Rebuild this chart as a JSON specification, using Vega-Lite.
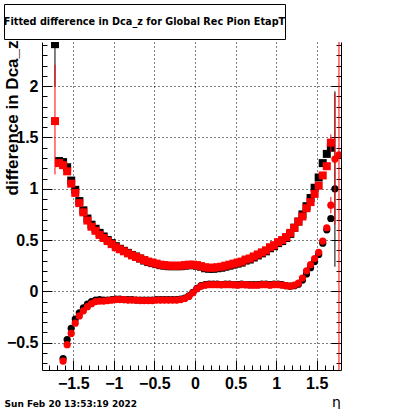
{
"$schema": "https://vega.github.io/schema/vega-lite/v6.json",
"background": "white",
"padding": {"left": 3, "top": 3, "right": 0, "bottom": 0},
"spacing": 0,
"config": {"font": "Liberation Sans", "view": {"stroke": null}, "axis": {"labelColor": "black", "titleColor": "black", "tickColor": "black", "domainColor": "black"}},
"vconcat": [
{
 "width": 281, "height": 35,
 "view": {"stroke": "black", "strokeWidth": 1, "fill": "white"},
 "data": {"values": [{"t": "Fitted difference in Dca_z for Global Rec Pion EtapT"}]},
 "mark": {"type": "text", "fontSize": 9.7, "fontWeight": "bold", "font": "DejaVu Sans", "color": "black"},
 "encoding": {"text": {"field": "t"}}
},
{
 "width": 337, "height": 328,
 "data": {"values": [
{"s":"rs","e":-1.725,"v":1.66,"lo":1.14,"hi":2.21},
{"s":"rs","e":-1.675,"v":1.25},{"s":"rs","e":-1.625,"v":1.23},{"s":"rs","e":-1.575,"v":1.17},{"s":"rs","e":-1.525,"v":1.05},
{"s":"rs","e":-1.475,"v":0.96},{"s":"rs","e":-1.425,"v":0.86},{"s":"rs","e":-1.375,"v":0.77},{"s":"rs","e":-1.325,"v":0.69},
{"s":"rs","e":-1.275,"v":0.63},{"s":"rs","e":-1.225,"v":0.59},{"s":"rs","e":-1.175,"v":0.55},{"s":"rs","e":-1.125,"v":0.52},
{"s":"rs","e":-1.075,"v":0.49},{"s":"rs","e":-1.025,"v":0.46},{"s":"rs","e":-0.975,"v":0.43},{"s":"rs","e":-0.925,"v":0.41},
{"s":"rs","e":-0.875,"v":0.39},{"s":"rs","e":-0.825,"v":0.37},{"s":"rs","e":-0.775,"v":0.35},{"s":"rs","e":-0.725,"v":0.335},
{"s":"rs","e":-0.675,"v":0.32},{"s":"rs","e":-0.625,"v":0.305},{"s":"rs","e":-0.575,"v":0.29},{"s":"rs","e":-0.525,"v":0.28},
{"s":"rs","e":-0.475,"v":0.27},{"s":"rs","e":-0.425,"v":0.26},{"s":"rs","e":-0.375,"v":0.255},{"s":"rs","e":-0.325,"v":0.25},
{"s":"rs","e":-0.275,"v":0.25},{"s":"rs","e":-0.225,"v":0.25},{"s":"rs","e":-0.175,"v":0.25},{"s":"rs","e":-0.125,"v":0.255},
{"s":"rs","e":-0.075,"v":0.26},{"s":"rs","e":-0.025,"v":0.26},{"s":"rs","e":0.025,"v":0.255},{"s":"rs","e":0.075,"v":0.245},
{"s":"rs","e":0.125,"v":0.235},{"s":"rs","e":0.175,"v":0.23},{"s":"rs","e":0.225,"v":0.23},{"s":"rs","e":0.275,"v":0.235},
{"s":"rs","e":0.325,"v":0.24},{"s":"rs","e":0.375,"v":0.25},{"s":"rs","e":0.425,"v":0.26},{"s":"rs","e":0.475,"v":0.27},
{"s":"rs","e":0.525,"v":0.28},{"s":"rs","e":0.575,"v":0.29},{"s":"rs","e":0.625,"v":0.31},{"s":"rs","e":0.675,"v":0.32},
{"s":"rs","e":0.725,"v":0.34},{"s":"rs","e":0.775,"v":0.36},{"s":"rs","e":0.825,"v":0.38},{"s":"rs","e":0.875,"v":0.40},
{"s":"rs","e":0.925,"v":0.43},{"s":"rs","e":0.975,"v":0.45},{"s":"rs","e":1.025,"v":0.48},{"s":"rs","e":1.075,"v":0.50},
{"s":"rs","e":1.125,"v":0.53},{"s":"rs","e":1.175,"v":0.57},{"s":"rs","e":1.225,"v":0.62},{"s":"rs","e":1.275,"v":0.68},
{"s":"rs","e":1.325,"v":0.73},{"s":"rs","e":1.375,"v":0.81},{"s":"rs","e":1.425,"v":0.87},{"s":"rs","e":1.475,"v":0.95},
{"s":"rs","e":1.525,"v":1.03},{"s":"rs","e":1.575,"v":1.13},{"s":"rs","e":1.625,"v":1.22},
{"s":"rs","e":1.675,"v":1.45,"lo":1.36,"hi":1.53},
{"s":"bs","e":-1.725,"v":2.41,"lo":2.0,"hi":2.9},
{"s":"bs","e":-1.675,"v":1.27},{"s":"bs","e":-1.625,"v":1.26},{"s":"bs","e":-1.575,"v":1.21},{"s":"bs","e":-1.525,"v":1.08},
{"s":"bs","e":-1.475,"v":0.99},{"s":"bs","e":-1.425,"v":0.88},{"s":"bs","e":-1.375,"v":0.79},{"s":"bs","e":-1.325,"v":0.71},
{"s":"bs","e":-1.275,"v":0.65},{"s":"bs","e":-1.225,"v":0.61},{"s":"bs","e":-1.175,"v":0.57},{"s":"bs","e":-1.125,"v":0.535},
{"s":"bs","e":-1.075,"v":0.50},{"s":"bs","e":-1.025,"v":0.47},{"s":"bs","e":-0.975,"v":0.44},{"s":"bs","e":-0.925,"v":0.415},
{"s":"bs","e":-0.875,"v":0.395},{"s":"bs","e":-0.825,"v":0.375},{"s":"bs","e":-0.775,"v":0.355},{"s":"bs","e":-0.725,"v":0.34},
{"s":"bs","e":-0.675,"v":0.32},{"s":"bs","e":-0.625,"v":0.30},{"s":"bs","e":-0.575,"v":0.285},{"s":"bs","e":-0.525,"v":0.275},
{"s":"bs","e":-0.475,"v":0.265},{"s":"bs","e":-0.425,"v":0.255},{"s":"bs","e":-0.375,"v":0.25},{"s":"bs","e":-0.325,"v":0.245},
{"s":"bs","e":-0.275,"v":0.245},{"s":"bs","e":-0.225,"v":0.245},{"s":"bs","e":-0.175,"v":0.245},{"s":"bs","e":-0.125,"v":0.25},
{"s":"bs","e":-0.075,"v":0.255},{"s":"bs","e":-0.025,"v":0.255},{"s":"bs","e":0.025,"v":0.25},{"s":"bs","e":0.075,"v":0.24},
{"s":"bs","e":0.125,"v":0.225},{"s":"bs","e":0.175,"v":0.22},{"s":"bs","e":0.225,"v":0.22},{"s":"bs","e":0.275,"v":0.225},
{"s":"bs","e":0.325,"v":0.23},{"s":"bs","e":0.375,"v":0.24},{"s":"bs","e":0.425,"v":0.25},{"s":"bs","e":0.475,"v":0.26},
{"s":"bs","e":0.525,"v":0.27},{"s":"bs","e":0.575,"v":0.28},{"s":"bs","e":0.625,"v":0.30},{"s":"bs","e":0.675,"v":0.31},
{"s":"bs","e":0.725,"v":0.33},{"s":"bs","e":0.775,"v":0.35},{"s":"bs","e":0.825,"v":0.37},{"s":"bs","e":0.875,"v":0.39},
{"s":"bs","e":0.925,"v":0.42},{"s":"bs","e":0.975,"v":0.44},{"s":"bs","e":1.025,"v":0.47},{"s":"bs","e":1.075,"v":0.49},
{"s":"bs","e":1.125,"v":0.52},{"s":"bs","e":1.175,"v":0.56},{"s":"bs","e":1.225,"v":0.62},{"s":"bs","e":1.275,"v":0.68},
{"s":"bs","e":1.325,"v":0.75},{"s":"bs","e":1.375,"v":0.83},{"s":"bs","e":1.425,"v":0.91},{"s":"bs","e":1.475,"v":1.01},
{"s":"bs","e":1.525,"v":1.11},{"s":"bs","e":1.575,"v":1.25},{"s":"bs","e":1.625,"v":1.34},{"s":"bs","e":1.675,"v":1.40},
{"s":"rc","e":-1.625,"v":-0.68},{"s":"rc","e":-1.575,"v":-0.52},{"s":"rc","e":-1.525,"v":-0.41},{"s":"rc","e":-1.475,"v":-0.31},
{"s":"rc","e":-1.425,"v":-0.24},{"s":"rc","e":-1.375,"v":-0.19},{"s":"rc","e":-1.325,"v":-0.15},{"s":"rc","e":-1.275,"v":-0.12},
{"s":"rc","e":-1.225,"v":-0.10},{"s":"rc","e":-1.175,"v":-0.095},{"s":"rc","e":-1.125,"v":-0.095},{"s":"rc","e":-1.075,"v":-0.09},
{"s":"rc","e":-1.025,"v":-0.085},{"s":"rc","e":-0.975,"v":-0.08},{"s":"rc","e":-0.925,"v":-0.08},{"s":"rc","e":-0.875,"v":-0.08},
{"s":"rc","e":-0.825,"v":-0.085},{"s":"rc","e":-0.775,"v":-0.085},{"s":"rc","e":-0.725,"v":-0.085},{"s":"rc","e":-0.675,"v":-0.09},
{"s":"rc","e":-0.625,"v":-0.09},{"s":"rc","e":-0.575,"v":-0.09},{"s":"rc","e":-0.525,"v":-0.09},{"s":"rc","e":-0.475,"v":-0.085},
{"s":"rc","e":-0.425,"v":-0.085},{"s":"rc","e":-0.375,"v":-0.085},{"s":"rc","e":-0.325,"v":-0.085},{"s":"rc","e":-0.275,"v":-0.085},
{"s":"rc","e":-0.225,"v":-0.085},{"s":"rc","e":-0.175,"v":-0.08},{"s":"rc","e":-0.125,"v":-0.07},{"s":"rc","e":-0.075,"v":-0.05},
{"s":"rc","e":-0.025,"v":-0.015},{"s":"rc","e":0.025,"v":0.025},{"s":"rc","e":0.075,"v":0.05},{"s":"rc","e":0.125,"v":0.06},
{"s":"rc","e":0.175,"v":0.065},{"s":"rc","e":0.225,"v":0.065},{"s":"rc","e":0.275,"v":0.065},{"s":"rc","e":0.325,"v":0.065},
{"s":"rc","e":0.375,"v":0.065},{"s":"rc","e":0.425,"v":0.065},{"s":"rc","e":0.475,"v":0.065},{"s":"rc","e":0.525,"v":0.06},
{"s":"rc","e":0.575,"v":0.065},{"s":"rc","e":0.625,"v":0.065},{"s":"rc","e":0.675,"v":0.06},{"s":"rc","e":0.725,"v":0.06},
{"s":"rc","e":0.775,"v":0.06},{"s":"rc","e":0.825,"v":0.065},{"s":"rc","e":0.875,"v":0.065},{"s":"rc","e":0.925,"v":0.06},
{"s":"rc","e":0.975,"v":0.065},{"s":"rc","e":1.025,"v":0.065},{"s":"rc","e":1.075,"v":0.06},{"s":"rc","e":1.125,"v":0.055},
{"s":"rc","e":1.175,"v":0.05},{"s":"rc","e":1.225,"v":0.06},{"s":"rc","e":1.275,"v":0.08},{"s":"rc","e":1.325,"v":0.13},
{"s":"rc","e":1.375,"v":0.20},{"s":"rc","e":1.425,"v":0.26},{"s":"rc","e":1.475,"v":0.32},{"s":"rc","e":1.525,"v":0.38},
{"s":"rc","e":1.575,"v":0.49},{"s":"rc","e":1.625,"v":0.62},
{"s":"rc","e":1.675,"v":0.84,"lo":0.76,"hi":0.92},
{"s":"rc","e":1.725,"v":1.29,"lo":0.65,"hi":1.93},
{"s":"rc","e":1.775,"v":1.33,"lo":-2,"hi":4},
{"s":"bc","e":-1.625,"v":-0.655},{"s":"bc","e":-1.575,"v":-0.47},{"s":"bc","e":-1.525,"v":-0.36},{"s":"bc","e":-1.475,"v":-0.27},
{"s":"bc","e":-1.425,"v":-0.21},{"s":"bc","e":-1.375,"v":-0.16},{"s":"bc","e":-1.325,"v":-0.125},{"s":"bc","e":-1.275,"v":-0.10},
{"s":"bc","e":-1.225,"v":-0.085},{"s":"bc","e":-1.175,"v":-0.08},{"s":"bc","e":-1.125,"v":-0.085},{"s":"bc","e":-1.075,"v":-0.085},
{"s":"bc","e":-1.025,"v":-0.08},{"s":"bc","e":-0.975,"v":-0.075},{"s":"bc","e":-0.925,"v":-0.075},{"s":"bc","e":-0.875,"v":-0.08},
{"s":"bc","e":-0.825,"v":-0.08},{"s":"bc","e":-0.775,"v":-0.08},{"s":"bc","e":-0.725,"v":-0.085},{"s":"bc","e":-0.675,"v":-0.085},
{"s":"bc","e":-0.625,"v":-0.085},{"s":"bc","e":-0.575,"v":-0.085},{"s":"bc","e":-0.525,"v":-0.085},{"s":"bc","e":-0.475,"v":-0.08},
{"s":"bc","e":-0.425,"v":-0.08},{"s":"bc","e":-0.375,"v":-0.08},{"s":"bc","e":-0.325,"v":-0.08},{"s":"bc","e":-0.275,"v":-0.08},
{"s":"bc","e":-0.225,"v":-0.08},{"s":"bc","e":-0.175,"v":-0.075},{"s":"bc","e":-0.125,"v":-0.065},{"s":"bc","e":-0.075,"v":-0.045},
{"s":"bc","e":-0.025,"v":-0.01},{"s":"bc","e":0.025,"v":0.03},{"s":"bc","e":0.075,"v":0.055},{"s":"bc","e":0.125,"v":0.065},
{"s":"bc","e":0.175,"v":0.07},{"s":"bc","e":0.225,"v":0.07},{"s":"bc","e":0.275,"v":0.07},{"s":"bc","e":0.325,"v":0.065},
{"s":"bc","e":0.375,"v":0.07},{"s":"bc","e":0.425,"v":0.07},{"s":"bc","e":0.475,"v":0.065},{"s":"bc","e":0.525,"v":0.065},
{"s":"bc","e":0.575,"v":0.07},{"s":"bc","e":0.625,"v":0.065},{"s":"bc","e":0.675,"v":0.065},{"s":"bc","e":0.725,"v":0.065},
{"s":"bc","e":0.775,"v":0.065},{"s":"bc","e":0.825,"v":0.07},{"s":"bc","e":0.875,"v":0.07},{"s":"bc","e":0.925,"v":0.065},
{"s":"bc","e":0.975,"v":0.07},{"s":"bc","e":1.025,"v":0.07},{"s":"bc","e":1.075,"v":0.065},{"s":"bc","e":1.125,"v":0.055},
{"s":"bc","e":1.175,"v":0.05},{"s":"bc","e":1.225,"v":0.055},{"s":"bc","e":1.275,"v":0.07},{"s":"bc","e":1.325,"v":0.11},
{"s":"bc","e":1.375,"v":0.17},{"s":"bc","e":1.425,"v":0.23},{"s":"bc","e":1.475,"v":0.29},{"s":"bc","e":1.525,"v":0.36},
{"s":"bc","e":1.575,"v":0.47},{"s":"bc","e":1.625,"v":0.60},{"s":"bc","e":1.675,"v":0.71},
{"s":"bc","e":1.725,"v":1.00,"lo":0.24,"hi":1.95}
 ]},
 "resolve": {"axis": {"x": "independent", "y": "independent"}},
 "layer": [
  {
   "transform": [{"filter": "(datum.s === 'bs' || datum.s === 'bc') && isValid(datum.lo)"}],
   "mark": {"type": "rule", "strokeWidth": 1, "clip": true, "color": "black"},
   "encoding": {
    "x": {"field": "e", "type": "quantitative", "scale": {"domain": [-1.885, 1.8], "range": [38, 337], "nice": false, "zero": false},
      "axis": {"orient": "bottom", "values": [-1.5, -1, -0.5, 0, 0.5, 1, 1.5], "format": "~g", "grid": true, "gridDash": [1, 3], "gridColor": "black", "gridOpacity": 1, "ticks": false, "domain": true, "labelFontSize": 16, "labelFontWeight": "bold", "labelPadding": 5, "title": "η", "titleFont": "DejaVu Sans", "titleFontSize": 14, "titleFontWeight": "normal", "titleX": 332, "titleY": 36, "titleAlign": "center", "titleBaseline": "alphabetic"}},
    "y": {"field": "lo", "type": "quantitative", "scale": {"domain": [-0.767, 2.431], "nice": false, "zero": false},
      "axis": {"orient": "left", "offset": -38, "values": [-0.5, 0, 0.5, 1, 1.5, 2], "format": "~g", "grid": true, "gridDash": [1, 3], "gridColor": "black", "gridOpacity": 1, "ticks": false, "domain": true, "labelFontSize": 16, "labelFontWeight": "bold", "labelPadding": 4, "title": "difference in Dca_z", "titleFontSize": 17, "titleFontWeight": "bold", "titleAngle": 270, "titleAlign": "right", "titleBaseline": "top", "titleX": -38, "titleY": -2}},
    "y2": {"field": "hi"}
   }
  },
  {
   "transform": [{"filter": "datum.s === 'bs'"}],
   "mark": {"type": "point", "shape": "square", "size": 64, "filled": true, "opacity": 1, "color": "black", "clip": true},
   "encoding": {
    "x": {"field": "e", "type": "quantitative", "scale": {"domain": [-1.885, 1.8], "range": [38, 337], "nice": false, "zero": false},
      "axis": {"orient": "bottom", "values": [-1.5, -1, -0.5, 0, 0.5, 1, 1.5], "grid": false, "labels": false, "domain": false, "ticks": true, "tickSize": -10, "title": "Sun Feb 20 13:53:19 2022", "titleFont": "DejaVu Sans", "titleFontSize": 9, "titleFontWeight": "bold", "titleX": 0, "titleY": 36, "titleAlign": "left", "titleBaseline": "alphabetic"}},
    "y": {"field": "v", "type": "quantitative", "scale": {"domain": [-0.767, 2.431], "nice": false, "zero": false},
      "axis": {"orient": "left", "offset": -38, "values": [-0.5, 0, 0.5, 1, 1.5, 2], "grid": false, "labels": false, "domain": false, "ticks": true, "tickSize": -10, "title": null}}
   }
  },
  {
   "transform": [{"filter": "datum.s === 'bc'"}],
   "mark": {"type": "point", "shape": "circle", "size": 52, "filled": true, "opacity": 1, "color": "black", "clip": true},
   "encoding": {
    "x": {"field": "e", "type": "quantitative", "scale": {"domain": [-1.885, 1.8], "range": [38, 337], "nice": false, "zero": false},
      "axis": {"orient": "bottom", "values": [-1.8, -1.7, -1.6, -1.4, -1.3, -1.2, -1.1, -0.9, -0.8, -0.7, -0.6, -0.4, -0.3, -0.2, -0.1, 0.1, 0.2, 0.3, 0.4, 0.6, 0.7, 0.8, 0.9, 1.1, 1.2, 1.3, 1.4, 1.6, 1.7], "grid": false, "labels": false, "domain": false, "ticks": true, "tickSize": -5, "title": null}},
    "y": {"field": "v", "type": "quantitative", "scale": {"domain": [-0.767, 2.431], "nice": false, "zero": false},
      "axis": {"orient": "left", "offset": -38, "values": [-0.7, -0.6, -0.4, -0.3, -0.2, -0.1, 0.1, 0.2, 0.3, 0.4, 0.6, 0.7, 0.8, 0.9, 1.1, 1.2, 1.3, 1.4, 1.6, 1.7, 1.8, 1.9, 2.1, 2.2, 2.3, 2.4], "grid": false, "labels": false, "domain": false, "ticks": true, "tickSize": -5, "title": null}}
   }
  },
  {
   "transform": [{"filter": "(datum.s === 'rs' || datum.s === 'rc') && isValid(datum.lo)"}],
   "mark": {"type": "rule", "strokeWidth": 1, "clip": true, "color": "#ff0000"},
   "encoding": {
    "x": {"field": "e", "type": "quantitative", "scale": {"domain": [-1.885, 1.8], "range": [38, 337], "nice": false, "zero": false}, "axis": null},
    "y": {"field": "lo", "type": "quantitative", "scale": {"domain": [-0.767, 2.431], "nice": false, "zero": false},
      "axis": {"orient": "right", "values": [-0.5, 0, 0.5, 1, 1.5, 2], "grid": false, "labels": false, "domain": true, "ticks": true, "tickSize": -10, "title": null}},
    "y2": {"field": "hi"}
   }
  },
  {
   "transform": [{"filter": "datum.s === 'rs'"}],
   "mark": {"type": "point", "shape": "square", "size": 64, "filled": true, "opacity": 1, "color": "#ff0000", "clip": true},
   "encoding": {
    "x": {"field": "e", "type": "quantitative", "scale": {"domain": [-1.885, 1.8], "range": [38, 337], "nice": false, "zero": false}, "axis": null},
    "y": {"field": "v", "type": "quantitative", "scale": {"domain": [-0.767, 2.431], "nice": false, "zero": false},
      "axis": {"orient": "right", "values": [-0.7, -0.6, -0.4, -0.3, -0.2, -0.1, 0.1, 0.2, 0.3, 0.4, 0.6, 0.7, 0.8, 0.9, 1.1, 1.2, 1.3, 1.4, 1.6, 1.7, 1.8, 1.9, 2.1, 2.2, 2.3, 2.4], "grid": false, "labels": false, "domain": false, "ticks": true, "tickSize": -5, "title": null}}
   }
  },
  {
   "transform": [{"filter": "datum.s === 'rc'"}],
   "mark": {"type": "point", "shape": "circle", "size": 52, "filled": true, "opacity": 1, "color": "#ff0000", "clip": true},
   "encoding": {
    "x": {"field": "e", "type": "quantitative", "scale": {"domain": [-1.885, 1.8], "range": [38, 337], "nice": false, "zero": false}, "axis": null},
    "y": {"field": "v", "type": "quantitative", "scale": {"domain": [-0.767, 2.431], "nice": false, "zero": false}, "axis": null}
   }
  }
 ]
}
]
}
